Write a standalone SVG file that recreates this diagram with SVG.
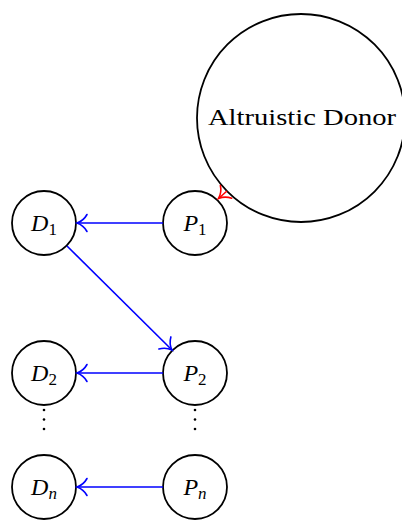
<svg xmlns="http://www.w3.org/2000/svg" width="402" height="520" viewBox="0 0 402 520">
<style>
.node{fill:#fff;stroke:#000;stroke-width:1.8}
.lbl{font-family:"Liberation Serif","DejaVu Serif",serif;font-size:24px;font-style:italic;fill:#000}
.sub{font-size:17px;font-style:normal}
.subi{font-size:17px;font-style:italic}
.big{font-family:"Liberation Serif","DejaVu Serif",serif;font-size:24px;fill:#000}
.blue{stroke:#0000ff;stroke-width:1.6;fill:none}
.red{stroke:#ff0000;stroke-width:1.6;fill:none}
.dot{fill:#000}
</style>
<defs>
<marker id="ab" viewBox="-12 -10 14 20" refX="0" refY="0" markerWidth="14" markerHeight="20" markerUnits="userSpaceOnUse" orient="auto" overflow="visible">
<path d="M -10,-8.5 C -7,-3 -2,-0.7 0,0 C -2,0.7 -7,3 -10,8.5" fill="none" stroke="#0000ff" stroke-width="1.6" stroke-linecap="round"/>
</marker>
<marker id="ar" viewBox="-12 -10 14 20" refX="0" refY="0" markerWidth="14" markerHeight="20" markerUnits="userSpaceOnUse" orient="auto" overflow="visible">
<path d="M -10,-8.5 C -7,-3 -2,-0.7 0,0 C -2,0.7 -7,3 -10,8.5" fill="none" stroke="#ff0000" stroke-width="1.6" stroke-linecap="round"/>
</marker>
</defs>
<g id="altruistic">
<circle class="node" cx="301" cy="118" r="104"/>
<text class="big" x="302" y="125" text-anchor="middle" textLength="188" lengthAdjust="spacingAndGlyphs">Altruistic Donor</text>
</g>
<g id="D1"><circle class="node" cx="44" cy="223" r="32"/><text class="lbl" x="44" y="231" text-anchor="middle">D<tspan class="sub" dy="4">1</tspan></text></g>
<g id="P1"><circle class="node" cx="195" cy="223" r="32"/><text class="lbl" x="195" y="231" text-anchor="middle">P<tspan class="sub" dy="4">1</tspan></text></g>
<g id="D2"><circle class="node" cx="44" cy="373" r="32"/><text class="lbl" x="44" y="381" text-anchor="middle">D<tspan class="sub" dy="4">2</tspan></text></g>
<g id="P2"><circle class="node" cx="195" cy="373" r="32"/><text class="lbl" x="195" y="381" text-anchor="middle">P<tspan class="sub" dy="4">2</tspan></text></g>
<g id="Dn"><circle class="node" cx="44" cy="487" r="32"/><text class="lbl" x="44" y="495" text-anchor="middle">D<tspan class="subi" dy="4">n</tspan></text></g>
<g id="Pn"><circle class="node" cx="195" cy="487" r="32"/><text class="lbl" x="195" y="495" text-anchor="middle">P<tspan class="subi" dy="4">n</tspan></text></g>
<g id="dots">
<circle class="dot" cx="44" cy="410" r="1.3"/><circle class="dot" cx="44" cy="419.5" r="1.3"/><circle class="dot" cx="44" cy="429" r="1.3"/>
<circle class="dot" cx="195" cy="410" r="1.3"/><circle class="dot" cx="195" cy="419.5" r="1.3"/><circle class="dot" cx="195" cy="429" r="1.3"/>
</g>
<g id="connectors">
<line class="blue" x1="163" y1="223" x2="77" y2="223" marker-end="url(#ab)"/>
<line class="blue" x1="67" y1="246" x2="172" y2="350" marker-end="url(#ab)"/>
<line class="blue" x1="163" y1="373" x2="77" y2="373" marker-end="url(#ab)"/>
<line class="blue" x1="163" y1="487" x2="77" y2="487" marker-end="url(#ab)"/>
<line class="red" x1="227" y1="191" x2="218.5" y2="198.5" marker-end="url(#ar)"/>
</g>
</svg>
